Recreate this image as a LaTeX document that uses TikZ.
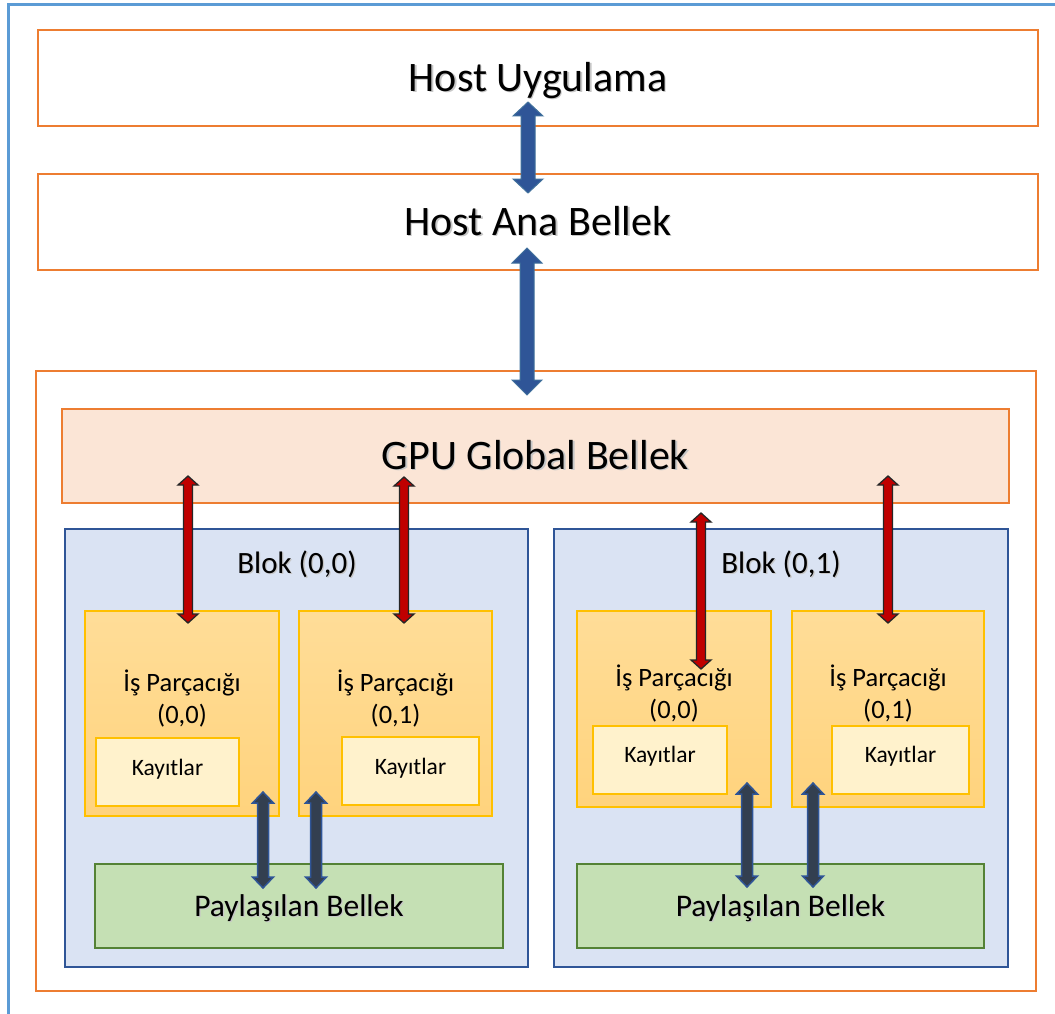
\documentclass[tikz,border=0pt]{standalone}
\usepackage{fontspec}
\setmainfont{Carlito}
\usetikzlibrary{calc}
\definecolor{frameblue}{HTML}{5B9BD5}
\definecolor{orng}{HTML}{ED7D31}
\definecolor{peach}{HTML}{FBE5D6}
\definecolor{blkfill}{HTML}{DAE3F3}
\definecolor{blkdraw}{HTML}{2F5597}
\definecolor{thrtop}{HTML}{FFDD98}
\definecolor{thrbot}{HTML}{FFD37D}
\definecolor{gold}{HTML}{FFC000}
\definecolor{regfill}{HTML}{FFF2CC}
\definecolor{shfill}{HTML}{C5E0B4}
\definecolor{shdraw}{HTML}{548235}
\definecolor{redarr}{HTML}{C00000}
\definecolor{redout}{HTML}{262626}
\definecolor{navy}{HTML}{333F50}
\definecolor{navyout}{HTML}{2F5597}
\definecolor{bigblue}{HTML}{2F5597}
\definecolor{bigout}{HTML}{41719C}
\newcommand\shd[1]{\rlap{\kern1.3pt\raisebox{-1.3pt}{\textcolor{black!22}{#1}}}#1}
% vertical double arrow: style, top coord, bottom coord, shaft half width, head half width, head length
\newcommand\vdarrow[6]{%
  \path[#1] let \p1=(#2), \p2=(#3) in
   (\x1,\y1) -- (\x1+#5pt,\y1-#6pt) -- (\x1+#4pt,\y1-#6pt) -- (\x1+#4pt,\y2+#6pt)
   -- (\x1+#5pt,\y2+#6pt) -- (\x1,\y2) -- (\x1-#5pt,\y2+#6pt) -- (\x1-#4pt,\y2+#6pt)
   -- (\x1-#4pt,\y1-#6pt) -- (\x1-#5pt,\y1-#6pt) -- cycle;}
\tikzset{
  obox/.style={draw=orng, line width=2.5pt, fill=white, inner sep=0pt,
    font=\fontsize{42}{50}\selectfont, text height=27pt, text depth=0pt},
  gbox/.style={draw=orng, line width=1.5pt, fill=peach, inner sep=0pt,
    font=\fontsize{42}{50}\selectfont, text height=27pt, text depth=0pt},
  blkbox/.style={draw=blkdraw, line width=2pt, fill=blkfill, inner sep=0pt},
  blktext/.style={inner sep=0pt, font=\fontsize{31}{36}\selectfont, text height=20pt, text depth=0pt},
  thrbox/.style={draw=gold, line width=1.3pt, top color=thrtop, bottom color=thrbot, inner sep=0pt},
  thrtext/.style={inner sep=0pt, align=center, font=\fontsize{26.5}{32}\selectfont},
  regbox/.style={draw=gold, line width=1.5pt, fill=regfill, inner sep=0pt,
    font=\fontsize{23.5}{28}\selectfont, text height=15pt},
  shbox/.style={draw=shdraw, line width=2pt, fill=shfill, inner sep=0pt,
    font=\fontsize{31.5}{36}\selectfont, text height=20.3pt, text depth=0pt},
  redarrow/.style={fill=redarr, draw=redout, line width=1.3pt, line join=miter},
  navyarrow/.style={fill=navy, draw=navyout, line width=1.5pt, line join=miter},
  bigarrow/.style={fill=bigblue, draw=bigout, line width=1pt, line join=miter},
}
\begin{document}
\begin{tikzpicture}[x=1pt,y=-1pt]
\useasboundingbox[fill=white] (0,0) rectangle (1055,1014);
% page frame
\draw[frameblue, line width=2.6pt] (8.7,1014) -- (8.7,4.3) -- (1055,4.3);

% host boxes
\node[obox, minimum width=1000pt, minimum height=96pt] (host) at (538,78) {\shd{Host Uygulama}};
\node[obox, minimum width=1000pt, minimum height=96pt] (hostmem) at (538,222) {\shd{Host Ana Bellek}};

% GPU
\node[draw=orng, line width=2.5pt, fill=white, minimum width=1000pt, minimum height=620pt] (gpu) at (536,681) {};
\node[gbox, minimum width=947pt, minimum height=94pt] (gmem) at (535.5,456) {\shd{GPU Global Bellek}};

% blocks
\node[blkbox, minimum width=463pt, minimum height=438pt] (blk0) at (296.5,748) {};
\node[blkbox, minimum width=454pt, minimum height=438pt] (blk1) at (781,748) {};
\node[blktext] (blk0t) at (297,563) {\shd{Blok (0,0)}};
\node[blktext] (blk1t) at (781,563) {\shd{Blok (0,1)}};

% threads
\node[thrbox, minimum width=194pt, minimum height=205pt] (t00) at (182,713.5) {};
\node[thrbox, minimum width=193pt, minimum height=205pt] (t01) at (395.5,713.5) {};
\node[thrbox, minimum width=194pt, minimum height=196pt] (t10) at (674,709) {};
\node[thrbox, minimum width=192pt, minimum height=196pt] (t11) at (888,709) {};
\node[thrtext, anchor=base] (t00t) at (182,723) {İş Parçacığı\\(0,0)};
\node[thrtext, anchor=base] (t01t) at (395.5,723) {İş Parçacığı\\(0,1)};
\node[thrtext, anchor=base] (t10t) at (674,718) {İş Parçacığı\\(0,0)};
\node[thrtext, anchor=base] (t11t) at (888,718) {İş Parçacığı\\(0,1)};

% registers
\node[regbox, minimum width=143pt, minimum height=68pt, text depth=9pt] (k00) at (167.5,772) {Kayıtlar};
\node[regbox, minimum width=137pt, minimum height=68pt, text depth=9pt] (k01) at (410.5,771) {Kayıtlar};
\node[regbox, minimum width=134pt, minimum height=68pt, text depth=11pt] (k10) at (660,760) {Kayıtlar};
\node[regbox, minimum width=137pt, minimum height=68pt, text depth=11pt] (k11) at (900.5,760) {Kayıtlar};

% shared memory
\node[shbox, minimum width=408pt, minimum height=84pt] (s0) at (299,906) {\shd{Paylaşılan Bellek}};
\node[shbox, minimum width=407pt, minimum height=84pt] (s1) at (780.5,906) {\shd{Paylaşılan Bellek}};

% arrow end points
\coordinate (h1) at (528,102);  \coordinate (h2) at (528,193);
\coordinate (g1) at (527,248);  \coordinate (g2) at (527,395);
\coordinate (r1a) at (188,476); \coordinate (r1b) at (188,623);
\coordinate (r2a) at (404,477); \coordinate (r2b) at (404,623);
\coordinate (r3a) at (701,513); \coordinate (r3b) at (701,669);
\coordinate (r4a) at (888,476); \coordinate (r4b) at (888,623);
\coordinate (n1a) at (263,792); \coordinate (n1b) at (263,888);
\coordinate (n2a) at (316,792); \coordinate (n2b) at (316,888);
\coordinate (n3a) at (747,783); \coordinate (n3b) at (747,887);
\coordinate (n4a) at (813,783); \coordinate (n4b) at (813,887);

% arrows
\vdarrow{bigarrow}{h1}{h2}{7}{15}{14}
\vdarrow{bigarrow}{g1}{g2}{7}{15}{15}
\vdarrow{redarrow}{r1a}{r1b}{4.5}{10}{9}
\vdarrow{redarrow}{r2a}{r2b}{4.5}{10}{9}
\vdarrow{redarrow}{r3a}{r3b}{4.5}{10}{9}
\vdarrow{redarrow}{r4a}{r4b}{4.5}{10}{9}
\vdarrow{navyarrow}{n1a}{n1b}{5.5}{10.5}{11}
\vdarrow{navyarrow}{n2a}{n2b}{5.5}{10.5}{11}
\vdarrow{navyarrow}{n3a}{n3b}{5.5}{10.5}{11}
\vdarrow{navyarrow}{n4a}{n4b}{5.5}{10.5}{11}
\end{tikzpicture}
\end{document}
